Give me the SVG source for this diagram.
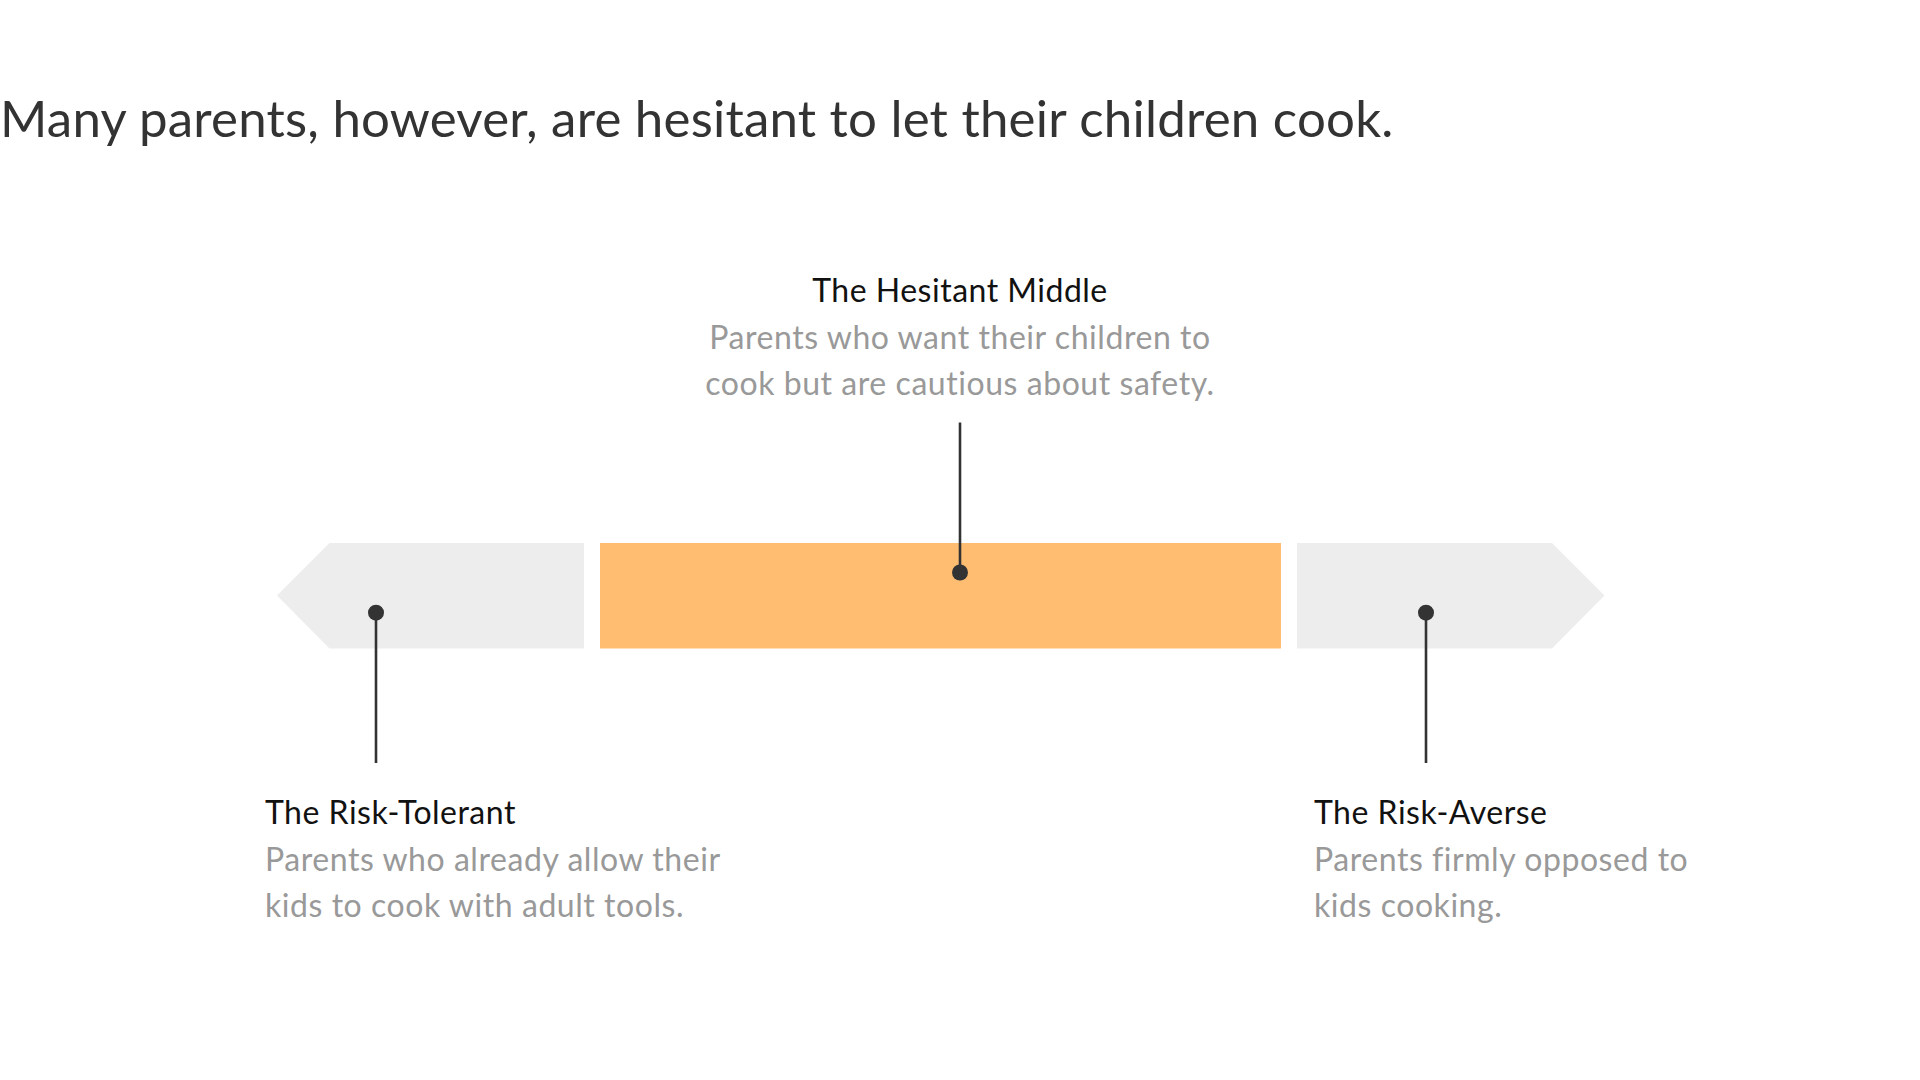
<svg xmlns="http://www.w3.org/2000/svg" width="1920" height="1080" viewBox="0 0 1920 1080">
<style>
.title{font-family:Lato,"Liberation Sans",sans-serif;font-size:51px;fill:#333333;letter-spacing:0.22px}
.head{font-family:Lato,"Liberation Sans",sans-serif;font-size:32px;fill:#111111;letter-spacing:0.5px}
.body{font-family:Lato,"Liberation Sans",sans-serif;font-size:32px;fill:#999999;letter-spacing:0.55px}
.seg-grey{fill:#ededed}
.seg-orange{fill:#ffbd72}
.conn{stroke:#333333;stroke-width:2.6;fill:none}
.dot{fill:#333333}
</style>
<rect width="1920" height="1080" fill="#ffffff"/>
<text class="title" x="0" y="137">Many parents, however, are hesitant to let their children cook.</text>
<g id="scale">
  <polygon id="seg-left" class="seg-grey" points="277,595.5 329.5,543 584,543 584,648.5 329.5,648.5"/>
  <rect id="seg-middle" class="seg-orange" x="600" y="543" width="681" height="105.5"/>
  <polygon id="seg-right" class="seg-grey" points="1297,543 1552,543 1604.5,595.5 1552,648.5 1297,648.5"/>
</g>
<g id="connectors">
  <line class="conn" x1="376" y1="612.7" x2="376" y2="763"/>
  <circle class="dot" cx="376" cy="612.7" r="8"/>
  <line class="conn" x1="960" y1="422.5" x2="960" y2="572"/>
  <circle class="dot" cx="960" cy="572.5" r="8"/>
  <line class="conn" x1="1426" y1="612.7" x2="1426" y2="763"/>
  <circle class="dot" cx="1426" cy="612.7" r="8"/>
</g>
<g id="node-middle">
  <text class="head" x="960" y="302" text-anchor="middle">The Hesitant Middle</text>
  <text class="body" x="960" y="348.5" text-anchor="middle">Parents who want their children to</text>
  <text class="body" x="960" y="395" text-anchor="middle">cook but are cautious about safety.</text>
</g>
<g id="node-left">
  <text class="head" x="265" y="824">The Risk-Tolerant</text>
  <text class="body" x="265" y="870.5">Parents who already allow their</text>
  <text class="body" x="265" y="917">kids to cook with adult tools.</text>
</g>
<g id="node-right">
  <text class="head" x="1314" y="824">The Risk-Averse</text>
  <text class="body" x="1314" y="870.5">Parents firmly opposed to</text>
  <text class="body" x="1314" y="917">kids cooking.</text>
</g>
</svg>
